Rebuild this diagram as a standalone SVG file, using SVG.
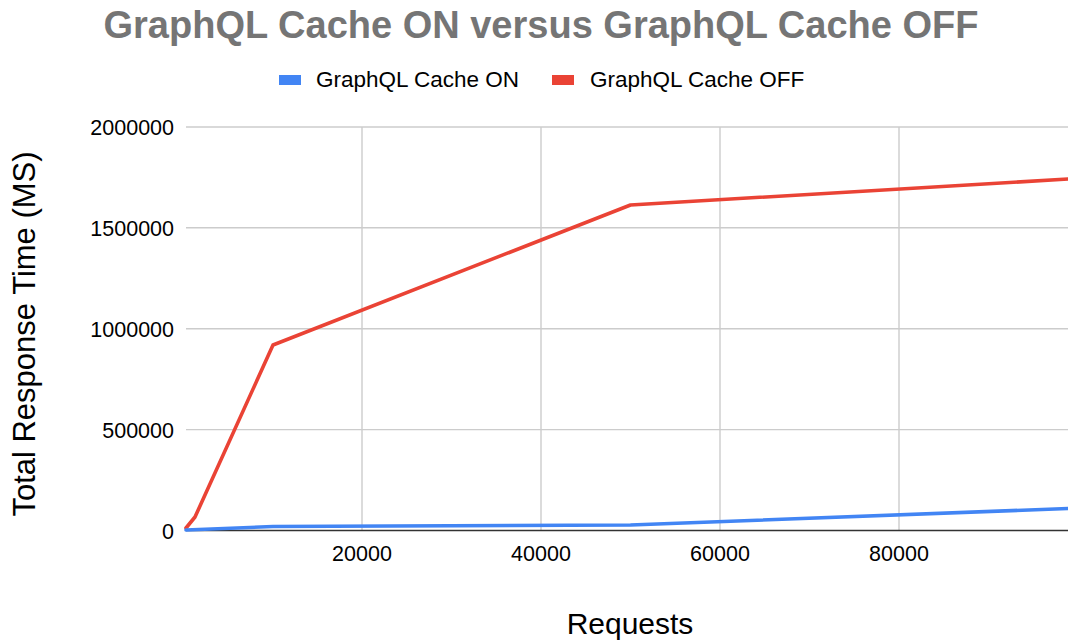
<svg xmlns="http://www.w3.org/2000/svg" width="1068" height="644" viewBox="0 0 1068 644">
<style>
text{font-family:"Liberation Sans",Arial,sans-serif;fill:#000}
.title{font-size:38px;font-weight:bold;fill:#757575;text-anchor:middle}
.leg{font-size:22.5px}
.yl{font-size:21.5px;text-anchor:end}
.xl{font-size:21.5px;text-anchor:middle}
.axt{font-size:30px;text-anchor:middle}
.grid{stroke:#cccccc;stroke-width:1.4;fill:none}
.s{fill:none;stroke-width:3.6;stroke-linejoin:round;stroke-linecap:round}
</style>
<rect width="1068" height="644" fill="#ffffff"/>
<g id="title"><text class="title" x="541" y="38">GraphQL Cache ON versus GraphQL Cache OFF</text></g>
<g id="legend">
<rect x="279" y="75" width="22" height="10" fill="#4285f4"/>
<text class="leg" x="316" y="87">GraphQL Cache ON</text>
<rect x="552" y="75" width="22" height="10" fill="#ea4335"/>
<text class="leg" x="590" y="87">GraphQL Cache OFF</text>
</g>
<g id="gridlines">
<line class="grid" x1="186" y1="127" x2="1068" y2="127"/>
<line class="grid" x1="186" y1="227.8" x2="1068" y2="227.8"/>
<line class="grid" x1="186" y1="328.7" x2="1068" y2="328.7"/>
<line class="grid" x1="186" y1="429.6" x2="1068" y2="429.6"/>
<line class="grid" x1="362" y1="127" x2="362" y2="530"/>
<line class="grid" x1="541" y1="127" x2="541" y2="530"/>
<line class="grid" x1="720" y1="127" x2="720" y2="530"/>
<line class="grid" x1="899" y1="127" x2="899" y2="530"/>
</g>
<g id="y-labels">
<text class="yl" x="174" y="135">2000000</text>
<text class="yl" x="174" y="236">1500000</text>
<text class="yl" x="174" y="337">1000000</text>
<text class="yl" x="174" y="438">500000</text>
<text class="yl" x="174" y="538.5">0</text>
</g>
<g id="x-labels">
<text class="xl" x="362" y="561">20000</text>
<text class="xl" x="541" y="561">40000</text>
<text class="xl" x="720" y="561">60000</text>
<text class="xl" x="899" y="561">80000</text>
</g>
<g id="axis-titles">
<text class="axt" x="630" y="634">Requests</text>
<text class="axt" style="font-size:31px" transform="translate(35,334) rotate(-90)">Total Response Time (MS)</text>
</g>
<g id="connectors">
<line x1="186" y1="530.5" x2="1068" y2="530.5" stroke="#333333" stroke-width="1.6"/>
<polyline class="s" stroke="#ea4335" points="186,528 195,517 273,345 630.5,205 1068,179"/>
<polyline class="s" stroke="#4285f4" points="186,530 273,526.5 630.5,525 1068,508.5"/>
</g>
</svg>
